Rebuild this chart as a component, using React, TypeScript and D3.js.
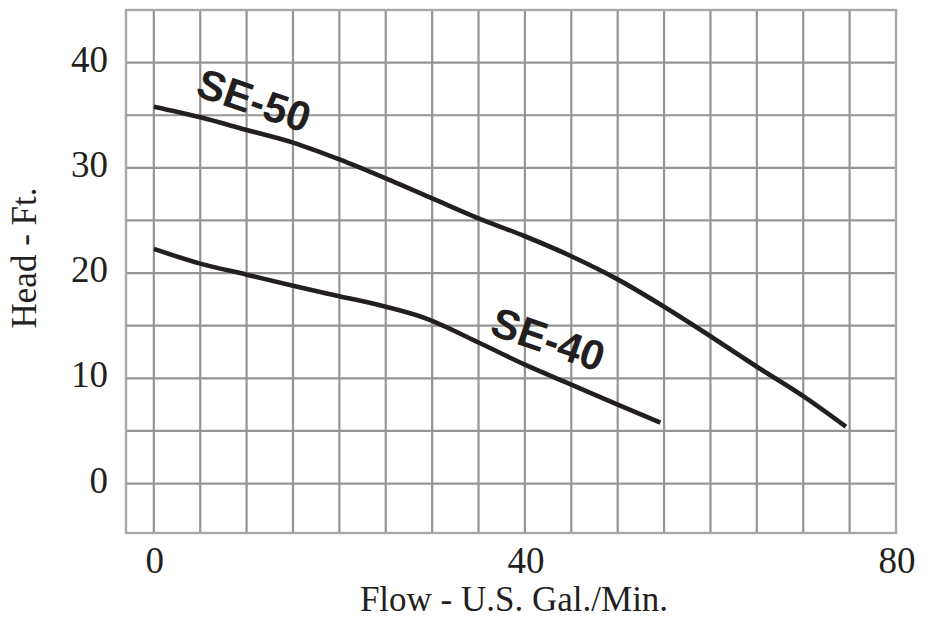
import { useEffect, useRef } from "react";
import * as d3 from "d3";

const width = 933;
const height = 623;
const margin = { top: 10, right: 37, bottom: 90, left: 126 };

// pump curves (flow in gal/min, head in ft)
const se50Flow = [0, 5, 10, 15, 20, 25, 30, 35, 40, 45, 50, 55, 60, 65, 70, 74.6];
const se50Head = [35.8, 34.8, 33.6, 32.4, 30.8, 29.0, 27.1, 25.2, 23.5, 21.6, 19.4, 16.8, 14.0, 11.1, 8.3, 5.4];
const se40Flow = [0, 5, 10, 15, 20, 25, 29.3, 35, 40, 45, 50, 54.6];
const se40Head = [22.3, 20.9, 19.85, 18.8, 17.8, 16.8, 15.7, 13.4, 11.3, 9.4, 7.5, 5.8];

const xTicks = [0, 40, 80];
const yTicks = [0, 10, 20, 30, 40];
const gridStep = 5;

const curves = [
  { label: "SE-50", flow: se50Flow, head: se50Head, labelAt: [10.8, 36.4] },
  { label: "SE-40", flow: se40Flow, head: se40Head, labelAt: [42.5, 13.7] },
];

const App = () => {
  const svgRef = useRef<SVGSVGElement>(null);

  useEffect(() => {
    const xScale = d3
      .scaleLinear()
      .domain([-3, 80])
      .range([margin.left, width - margin.right]);
    const yScale = d3
      .scaleLinear()
      .domain([-4.7, 45])
      .range([height - margin.bottom, margin.top]);

    const svg = d3.select(svgRef.current);
    svg.selectAll("*").remove();

    const grid = svg.append("g").attr("stroke", "#959595").attr("stroke-width", 2.2);

    // vertical grid lines
    d3.range(0, 80, gridStep).forEach((v) => {
      grid
        .append("line")
        .attr("x1", xScale(v))
        .attr("x2", xScale(v))
        .attr("y1", yScale(45))
        .attr("y2", yScale(-4.7));
    });
    // horizontal grid lines
    d3.range(0, 45, gridStep).forEach((v) => {
      grid
        .append("line")
        .attr("x1", xScale(-3))
        .attr("x2", xScale(80))
        .attr("y1", yScale(v))
        .attr("y2", yScale(v));
    });

    // frame
    svg
      .append("rect")
      .attr("x", xScale(-3))
      .attr("y", yScale(45))
      .attr("width", xScale(80) - xScale(-3))
      .attr("height", yScale(-4.7) - yScale(45))
      .attr("fill", "none")
      .attr("stroke", "#a8a8a8")
      .attr("stroke-width", 2.4);

    const serif = "'Liberation Serif', 'Times New Roman', serif";

    // tick labels
    svg
      .append("g")
      .selectAll("text")
      .data(yTicks)
      .join("text")
      .attr("x", 108)
      .attr("y", (d) => yScale(d) + 9)
      .attr("text-anchor", "end")
      .attr("font-family", serif)
      .attr("font-size", 37)
      .attr("fill", "#231f20")
      .text((d) => d);

    svg
      .append("g")
      .selectAll("text")
      .data(xTicks)
      .join("text")
      .attr("x", (d) => xScale(d) + 1)
      .attr("y", 573)
      .attr("text-anchor", "middle")
      .attr("font-family", serif)
      .attr("font-size", 37)
      .attr("fill", "#231f20")
      .text((d) => d);

    // axis titles
    svg
      .append("text")
      .attr("x", 514)
      .attr("y", 611)
      .attr("text-anchor", "middle")
      .attr("font-family", serif)
      .attr("font-size", 35)
      .attr("fill", "#231f20")
      .text("Flow - U.S. Gal./Min.");

    svg
      .append("text")
      .attr("transform", `translate(36, 258) rotate(-90)`)
      .attr("text-anchor", "middle")
      .attr("font-family", serif)
      .attr("font-size", 35)
      .attr("fill", "#231f20")
      .text("Head - Ft.");

    const line = d3
      .line<number>()
      .x((d) => xScale(d))
      .curve(d3.curveMonotoneX);

    curves.forEach((c) => {
      svg
        .append("path")
        .attr("fill", "none")
        .attr("stroke", "#231f20")
        .attr("stroke-width", 4.6)
        .attr("d", line.y((_, i) => yScale(c.head[i]))(c.flow));

      svg
        .append("text")
        .attr(
          "transform",
          `translate(${xScale(c.labelAt[0])}, ${yScale(c.labelAt[1])}) rotate(19)`
        )
        .attr("text-anchor", "middle")
        .attr("dominant-baseline", "central")
        .attr("font-family", "'Liberation Sans', Arial, sans-serif")
        .attr("font-weight", "bold")
        .attr("font-size", 42)
        .attr("fill", "#231f20")
        .text(c.label);
    });
  }, []);

  return (
    <svg
      ref={svgRef}
      width={width}
      height={height}
      style={{ position: "absolute", left: 0, top: 0, background: "#fff" }}
    ></svg>
  );
};

export default App;
